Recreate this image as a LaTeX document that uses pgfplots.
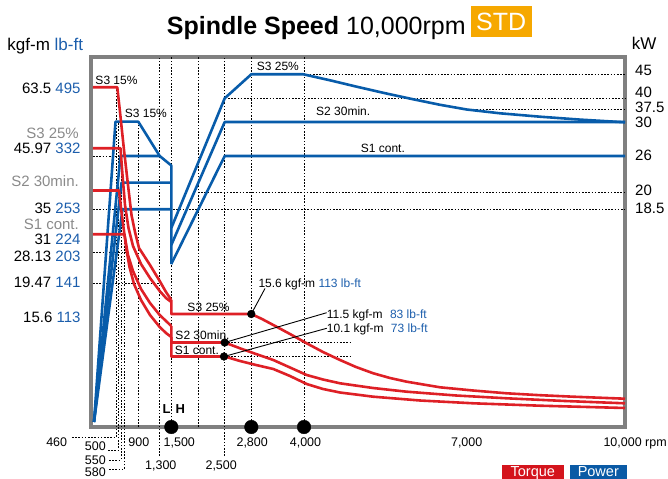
\documentclass[border=0pt]{standalone}
\usepackage{fontspec}
\setmainfont{Liberation Sans}
\usepackage{pgfplots}
\pgfplotsset{compat=1.18}

\definecolor{tq}{RGB}{222,32,38}
\definecolor{pw}{RGB}{8,92,170}
\definecolor{lbft}{RGB}{28,94,172}
\definecolor{frm}{RGB}{128,128,128}
\definecolor{stdbg}{RGB}{246,168,0}
\definecolor{duty}{RGB}{138,138,138}
\definecolor{legred}{RGB}{212,20,28}
\definecolor{legblue}{RGB}{10,90,165}

\newcommand{\fs}[1]{\fontsize{#1bp}{#1bp}\selectfont}

\tikzset{
  grd/.style={black, line width=0.9bp, dash pattern=on 1.6bp off 1.6bp},
  tql/.style={tq, line width=2.6bp, line join=round},
  pwl/.style={pw, line width=2.6bp, line join=round},
  lt/.style={anchor=base east, inner sep=0pt, font=\fs{15}},
  rt/.style={anchor=base west, inner sep=0pt, font=\fs{15}},
  bt/.style={anchor=base, inner sep=0pt, font=\fs{12.5}},
  il/.style={anchor=base west, inner sep=0pt, font=\fs{12}},
}

\begin{document}
\begin{tikzpicture}
% axis units are pixels of the original sheet: x to the right, y downwards
\begin{axis}[
  x=1bp, y=1bp, y dir=reverse,
  xmin=91, xmax=625, ymin=57, ymax=427,
  axis line style={draw=frm, line width=4bp},
  ticks=none, clip=false,
]
\coordinate (bbTL) at (0,0);
\coordinate (bbBR) at (668,479);

% dotted guide lines
\addplot[grd] coordinates {(72,437) (116.5,437) (116.5,87.3)};
\addplot[grd] coordinates {(108,450) (118.7,450) (118.7,121.7)};
\addplot[grd] coordinates {(109,460) (121,460) (121,148)};
\addplot[grd] coordinates {(109,469.5) (124,469.5) (124,209.3)};
\addplot[grd] coordinates {(138.3,427) (138.3,121.7)};
\addplot[grd] coordinates {(159.7,456) (159.7,57)};
\addplot[grd] coordinates {(171.3,427) (171.3,57)};
\addplot[grd] coordinates {(198,427) (198,57)};
\addplot[grd] coordinates {(224.7,456) (224.7,57)};
\addplot[grd] coordinates {(251.3,427) (251.3,57)};
\addplot[grd] coordinates {(304,427) (304,57)};
\addplot[grd] coordinates {(303.3,74.3) (625,74.3)};
\addplot[grd] coordinates {(224.7,98.5) (625,98.5)};
\addplot[grd] coordinates {(466.7,109.5) (625,109.5)};
\addplot[grd] coordinates {(93,156) (121,156)};
\addplot[grd] coordinates {(198,192.7) (625,192.7)};
\addplot[grd] coordinates {(93,209.3) (625,209.3)};
\addplot[grd] coordinates {(93,252) (126,252)};
\addplot[grd] coordinates {(93,283) (160,283)};
\addplot[grd] coordinates {(224.7,342.5) (352,342.5)};
\addplot[grd] coordinates {(224.7,356.5) (352,356.5)};

% power, low winding
\addplot[pwl] coordinates {(94,422) (115.5,121.7) (138.3,121.7) (159.7,156) (171.3,165.5) (171.3,264)};
\addplot[pwl] coordinates {(94,422) (120.5,156) (159.7,156)};
\addplot[pwl] coordinates {(94,422) (121.5,182.7) (171.3,182.7)};
\addplot[pwl] coordinates {(94,422) (122.5,209.3) (171.3,209.3)};
% power, high winding
\addplot[pwl] coordinates {(171.3,228) (224.7,98.3) (251.3,74.3) (303.3,74.3) (330,80.3)
  (356.7,86.7) (385,93.2) (413.3,99.3) (440,104.8) (466.7,109.5) (500,113.3)
  (540,116.7) (580,119.6) (625,122.3)};
\addplot[pwl] coordinates {(171.3,245) (224.7,122) (625,122)};
\addplot[pwl] coordinates {(171.3,264) (224.7,156) (625,156)};

% torque, low winding
\addplot[tql] coordinates {(93,87.3) (117.3,87.3) (120,112) (124,150) (128,185) (131.5,215)
  (135,232) (139,248) (150,265) (159.7,281) (166,292) (171.3,300)};
\addplot[tql] coordinates {(93,148.3) (120.5,148.3) (122.5,175) (125,205) (128.5,228) (133,246)
  (141,264) (150,278) (159.7,291) (166,298) (171.3,302)};
\addplot[tql] coordinates {(93,190.5) (119,190.5) (121.5,212) (124.5,235) (128,255) (133,271)
  (141,289) (150,303) (159.7,315) (166,321) (171.3,326)};
\addplot[tql] coordinates {(93,234.3) (124.5,234.3) (126.5,250) (129.5,267) (134,284) (141,300)
  (150,315) (159.7,327) (166,333) (171.3,337)};
% torque, high winding
\addplot[tql] coordinates {(171.3,300) (171.3,314) (251.3,314) (262,319) (273.3,325) (290,334)
  (306.7,343.3) (323,352) (340,360) (356,367) (373.3,373.3) (390,378) (406.7,381.7)
  (440,387.3) (473,390.5) (506.7,393.3) (540,395.2) (573.3,396.7) (625,398.7)};
\addplot[tql] coordinates {(171.3,326) (171.3,342.5) (224.7,342.5) (240,348.3) (256,354)
  (273.3,360) (290,367.5) (306.7,375) (323,379.5) (340,383.3) (373,388) (406.7,391.7)
  (456,395.5) (506.7,398.3) (565,401) (625,403.3)};
\addplot[tql] coordinates {(171.3,337) (171.3,356.5) (224.7,356.5) (240,361) (256,365)
  (273.3,369) (290,376) (306.7,384) (323,389) (340,392.5) (373.3,396.7) (420,400.5)
  (473.3,403.3) (540,405.7) (625,408)};

% callouts
\addplot[black, line width=0.9bp] coordinates {(251.3,314) (265,288.5)};
\addplot[black, line width=0.9bp] coordinates {(224.7,342.5) (326.7,312.7)};
\addplot[black, line width=0.9bp] coordinates {(224,356.5) (326.7,328.3)};
\addplot[only marks, mark=*, mark size=3.9bp, black] coordinates {(251.3,314) (224.7,342.5) (224,356.5)};
\addplot[only marks, mark=*, mark size=6.8bp, black] coordinates {(171.3,427) (251.3,427) (304,427)};

% duty labels inside the plot
\node[il] at (95.3,85) {S3 15\%};
\node[il] at (124.7,117.7) {S3 15\%};
\node[il] at (256.7,70.7) {S3 25\%};
\node[il] at (316,116) {S2 30min.};
\node[il] at (360.7,152.7) {S1 cont.};
\node[il] at (187.3,311.7) {S3 25\%};
\node[il] at (175.3,339.3) {S2 30min.};
\node[il] at (174.7,354) {S1 cont.};
\node[il] at (258.3,287.3) {15.6 kgf-m \textcolor{lbft}{113 lb-ft}};
\node[il] at (326.7,318.3) {11.5 kgf-m\hspace{4bp} \textcolor{lbft}{83 lb-ft}};
\node[il] at (326.7,332.7) {10.1 kgf-m\hspace{4bp} \textcolor{lbft}{73 lb-ft}};
\node[anchor=base, font=\bfseries\fs{13}, inner sep=0pt] at (166.7,413.3) {L};
\node[anchor=base, font=\bfseries\fs{13}, inner sep=0pt] at (180.3,413.3) {H};

% title
\node[anchor=base west, inner sep=0pt, font=\fs{25}] at (166.7,35) {\textbf{Spindle Speed} 10,000rpm};
\fill[stdbg] (470.7,6) rectangle (531.7,37);
\node[anchor=base, inner sep=0pt, font=\fs{25}, text=white] at (501.2,30.5) {STD};

% left scale
\node[anchor=base west, inner sep=0pt, font=\fs{17}] at (7.3,50.5) {kgf-m \textcolor{lbft}{lb-ft}};
\node[lt] at (80.7,93.5) {63.5 \textcolor{lbft}{495}};
\node[lt, text=duty] at (79,139) {S3 25\%};
\node[lt] at (80.7,153.7) {45.97 \textcolor{lbft}{332}};
\node[lt, text=duty] at (79,186.5) {S2 30min.};
\node[lt] at (80.7,213.2) {35 \textcolor{lbft}{253}};
\node[lt, text=duty] at (79,229.5) {S1 cont.};
\node[lt] at (80.7,244.2) {31 \textcolor{lbft}{224}};
\node[lt] at (80.7,261.6) {28.13 \textcolor{lbft}{203}};
\node[lt] at (80.7,287.7) {19.47 \textcolor{lbft}{141}};
\node[lt] at (80.7,322.7) {15.6 \textcolor{lbft}{113}};

% right scale
\node[anchor=base west, inner sep=0pt, font=\fs{17}] at (631.7,50) {kW};
\node[rt] at (635,76) {45};
\node[rt] at (635,97.7) {40};
\node[rt] at (635,112.7) {37.5};
\node[rt] at (635,128) {30};
\node[rt] at (635,160.5) {26};
\node[rt] at (635,195.5) {20};
\node[rt] at (635,213.5) {18.5};

% speed labels
\node[bt] at (56.7,446.7) {460};
\node[bt] at (95.3,450) {500};
\node[bt] at (95.3,464.3) {550};
\node[bt] at (95.3,476.7) {580};
\node[bt] at (138.8,446.7) {900};
\node[bt] at (179.3,446.7) {1,500};
\node[bt] at (160.8,469) {1,300};
\node[bt] at (221.2,469) {2,500};
\node[bt] at (252.2,446.7) {2,800};
\node[bt] at (305.5,446.7) {4,000};
\node[bt] at (466.7,446.7) {7,000};
\node[anchor=base west, inner sep=0pt, font=\fs{12.5}] at (603.3,446.7) {10,000 rpm};

% legend
\fill[legred] (501.7,465) rectangle (564,482);
\fill[legblue] (570,465) rectangle (626.7,482);
\node[anchor=base, inner sep=0pt, font=\fs{14.5}, text=white] at (532.8,476.3) {Torque};
\node[anchor=base, inner sep=0pt, font=\fs{14.5}, text=white] at (598.3,476.3) {Power};
\end{axis}
\pgfresetboundingbox
\path (bbTL) rectangle (bbBR);
\end{tikzpicture}
\end{document}
